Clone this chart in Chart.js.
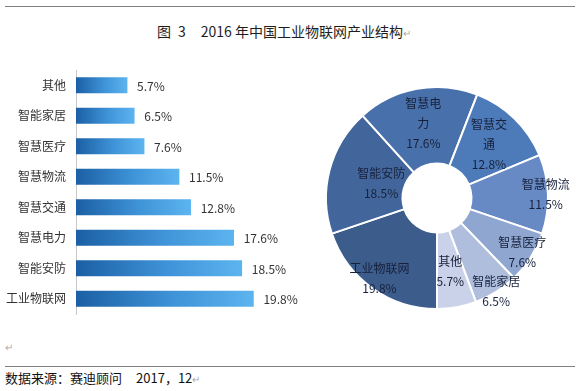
<!DOCTYPE html>
<html>
<head>
<meta charset="utf-8">
<script src="https://cdn.jsdelivr.net/npm/chart.js@4/dist/chart.umd.min.js"></script>
<style>
  html, body { margin: 0; padding: 0; background: #fff; }
  body { width: 580px; height: 391px; position: relative; overflow: hidden;
         font-family: "Noto Sans CJK SC", "Noto Sans", sans-serif; color: #222; }
  .rule { position: absolute; left: 5px; width: 570px; height: 0; border-top: 1px solid #808080; }
  #title { position: absolute; left: 157px; top: 21px; font-size: 14px; line-height: 20px; white-space: pre; color: #1e1e1e; }
  #title .g1 { margin-left: 7px; }
  #title .g2 { margin-left: 15px; }
  #footer { position: absolute; left: 5px; top: 368px; font-size: 13px; line-height: 20px; white-space: pre; color: #111; }
  #footer .g2 { margin-left: 14px; }
  .pm { color: #aaa; font-size: 10px; }
  #para { position: absolute; left: 5px; top: 339px; }
  canvas { position: absolute; }
</style>
</head>
<body>
<div class="rule" style="top:6px"></div>
<div id="title">图<span class="g1">3</span><span class="g2">2016 年中国工业物联网产业结构</span><span class="pm">↵</span></div>
<div id="para" class="pm">↵</div>
<div class="rule" style="top:366px"></div>
<div id="footer">数据来源：赛迪顾问<span class="g2">2017，12</span><span class="pm">↵</span></div>

<canvas id="bar" width="300" height="256" style="left:0;top:64px;width:300px;height:256px"></canvas>
<canvas id="pie" width="274" height="240" style="left:300px;top:78px;width:274px;height:240px"></canvas>

<script>
// ---- data (bar chart order, top to bottom) ----
const categories = ['其他', '智能家居', '智慧医疗', '智慧物流', '智慧交通', '智慧电力', '智能安防', '工业物联网'];
const shares = [5.7, 6.5, 7.6, 11.5, 12.8, 17.6, 18.5, 19.8];
const xTicksMax = 25;

// ---- doughnut (clockwise from 6 o'clock) ----
const pieCategories = categories.slice().reverse();
const pieShares = shares.slice().reverse();

// styles
const pieColors = ['#3c5c8c', '#42669c', '#4870aa', '#4d7ab8', '#6789c4', '#8fa6d1', '#b0bedd', '#cad2e9'];
const pieLabelRadius = [0.89, 0.52, 0.68, 0.67, 0.98, 0.91, 1.0, 0.67];
const pieWrapAt = [0, 0, 3, 3, 0, 0, 0, 0];

const FONT = '"Noto Sans CJK SC", "Noto Sans", sans-serif';

const barValueLabels = {
  id: 'barValueLabels',
  afterDatasetsDraw(chart) {
    const ctx = chart.ctx;
    const meta = chart.getDatasetMeta(0);
    ctx.save();
    ctx.font = '12px ' + FONT;
    ctx.fillStyle = '#333';
    ctx.textBaseline = 'middle';
    ctx.textAlign = 'left';
    meta.data.forEach((bar, i) => {
      const p = bar.getProps(['x', 'y'], true);
      ctx.fillText(shares[i].toFixed(1) + '%', p.x + 10, p.y + 1);
    });
    ctx.restore();
  }
};

new Chart(document.getElementById('bar'), {
  type: 'bar',
  data: {
    labels: categories,
    datasets: [{
      data: shares,
      barThickness: 15.5,
      borderWidth: 0,
      backgroundColor(context) {
        const chart = context.chart;
        const xs = chart.scales && chart.scales.x;
        if (!chart.chartArea || !xs) return '#3a8ad0';
        const x0 = xs.getPixelForValue(0);
        const x1 = xs.getPixelForValue(context.raw);
        const g = chart.ctx.createLinearGradient(x0, 0, x1, 0);
        g.addColorStop(0, '#1b5fa4');
        g.addColorStop(0.55, '#3f93d8');
        g.addColorStop(1, '#5cb4ef');
        return g;
      }
    }]
  },
  options: {
    indexAxis: 'y',
    responsive: false,
    animation: false,
    layout: { padding: 0 },
    plugins: { legend: { display: false }, tooltip: { enabled: false }, title: { display: false } },
    scales: {
      x: { type: 'linear', min: 0, max: xTicksMax, display: false },
      y: {
        grid: { display: true, color: 'rgba(0,0,0,0)', drawTicks: true, tickLength: 10 },
        border: { display: true, color: '#c8c8c8', width: 1 },
        ticks: { color: '#333', padding: 0, font: { size: 12, family: FONT, lineHeight: 1 } },
        afterFit(scale) { scale.width = 76; }
      }
    }
  },
  plugins: [barValueLabels]
});

const pieLabels = {
  id: 'pieLabels',
  afterDatasetsDraw(chart) {
    const ctx = chart.ctx;
    const meta = chart.getDatasetMeta(0);
    ctx.save();
    ctx.font = '12px ' + FONT;
    ctx.fillStyle = '#17213b';
    ctx.textAlign = 'center';
    ctx.textBaseline = 'middle';
    meta.data.forEach((arc, i) => {
      const p = arc.getProps(['x', 'y', 'startAngle', 'endAngle', 'outerRadius'], true);
      const mid = (p.startAngle + p.endAngle) / 2;
      const r = p.outerRadius * pieLabelRadius[i];
      const cx = p.x + Math.cos(mid) * r;
      const cy = p.y + Math.sin(mid) * r;
      const name = pieCategories[i];
      const lines = pieWrapAt[i] ? [name.slice(0, pieWrapAt[i]), name.slice(pieWrapAt[i])] : [name];
      lines.push(pieShares[i].toFixed(1) + '%');
      const lh = 20;
      const top = cy - (lines.length - 1) * lh / 2;
      lines.forEach((t, k) => ctx.fillText(t, cx, top + k * lh));
    });
    ctx.restore();
  }
};

new Chart(document.getElementById('pie'), {
  type: 'doughnut',
  data: {
    labels: pieCategories,
    datasets: [{
      data: pieShares,
      backgroundColor: pieColors,
      borderColor: '#ffffff',
      borderWidth: 2,
      hoverOffset: 0
    }]
  },
  options: {
    responsive: false,
    animation: false,
    rotation: 180,
    radius: 111,
    cutout: 37,
    layout: { padding: 0 },
    plugins: { legend: { display: false }, tooltip: { enabled: false } }
  },
  plugins: [pieLabels]
});
</script>
</body>
</html>
